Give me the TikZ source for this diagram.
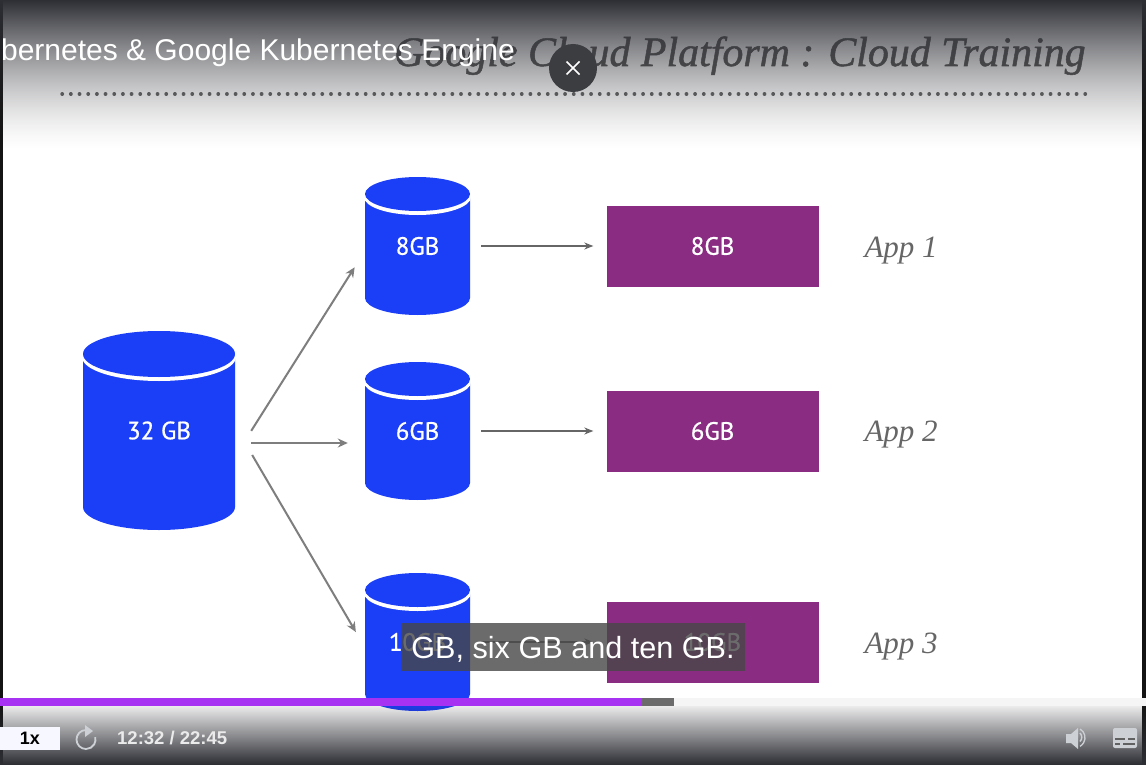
\documentclass[tikz,border=0pt]{standalone}
\usepackage{xcolor}
\usepackage{fontspec}
\usepackage{tikz}
\usetikzlibrary{arrows.meta}
\setmainfont{Liberation Sans}
\newfontfamily\slidefont[FakeBold=1.2]{Liberation Serif}
\newfontfamily\namefont{Liberation Serif}
\newfontfamily\diskfont[FakeBold=0.8]{PT Sans}

\definecolor{diskblue}{HTML}{1B3EF7}
\definecolor{apppurple}{HTML}{8A2C82}
\definecolor{flowgray}{HTML}{7E7E7E}
\definecolor{shadedark}{HTML}{2E2F35}
\definecolor{playerlight}{HTML}{CDD1D5}
\definecolor{closegray}{HTML}{3C3D41}
\definecolor{barviolet}{HTML}{A832F2}

\tikzset{
    diskbox/.style={inner sep=0pt, text=white, font=\diskfont\fontsize{25}{28}\selectfont},
    appbox/.style={fill=apppurple, inner sep=0pt, minimum width=212pt, minimum height=81pt, text=white, font=\diskfont\fontsize{25}{28}\selectfont},
    applabel/.style={anchor=west, text=black!60, font=\namefont\itshape\fontsize{31}{34}\selectfont},
    fanarrow/.style={draw=flowgray, line width=2pt, -{Stealth[length=10pt,width=9pt]}},
    apparrow/.style={draw=black!60, line width=1.2pt, -{Stealth[length=9pt,width=7pt]}, shorten <=11pt, shorten >=13pt},
    playertext/.style={text=white!92!black, font=\bfseries\fontsize{18.5}{20}\selectfont}
}

% name, centre x, top y, x radius, y radius, bottom y
\newcommand{\dbdisk}[6]{
    \fill[diskblue] (#2-#4,#3+#5+4) -- (#2-#4,#6-#5) arc[start angle=180, end angle=0, x radius=#4, y radius=#5] -- (#2+#4,#3+#5+4) -- cycle;
    \fill[white] (#2-#4-1,#3+#5) -- (#2-#4-1,#3+#5+3) arc[start angle=180, end angle=0, x radius=#4+1, y radius=#5+1] -- (#2+#4+1,#3+#5) -- cycle;
    \fill[diskblue] (#2,#3+#5) ellipse[x radius=#4, y radius=#5];
}

\begin{document}
\begin{tikzpicture}[x=1pt, y=-1pt]
    \useasboundingbox (0,0) rectangle (1146,765);
    \clip (0,0) rectangle (1146,765);
    \fill[white] (0,0) rectangle (1146,765);
    \fill[black!92] (0,0) rectangle (3,765);
    \fill[black!92] (1142,0) rectangle (1146,765);

    % slide heading
    \node[anchor=base west, inner sep=0pt, text=black!66, font=\slidefont\itshape\fontsize{41.9}{46}\selectfont] (heading) at (394,66) {Google Cloud Platform : Cloud Training};
    \draw[line width=3.4pt, black!60, line cap=round, dash pattern=on 0.4pt off 8.27pt] (62,94) -- (1086,94);

    % disks
    \dbdisk{d32}{159}{331}{76}{23}{530}
    \dbdisk{d8}{417.5}{177}{52.5}{17}{315}
    \dbdisk{d6}{417.5}{362}{52.5}{17}{500}
    \dbdisk{d10}{417.5}{573}{52.5}{17}{711}
    \node[diskbox, minimum width=152pt, minimum height=199pt] (disk32) at (159,430.5) {32 GB};
    \node[diskbox, minimum width=105pt, minimum height=138pt] (disk8) at (417.5,246) {8GB};
    \node[diskbox, minimum width=105pt, minimum height=138pt] (disk6) at (417.5,431) {6GB};
    \node[diskbox, minimum width=105pt, minimum height=138pt] (disk10) at (417.5,642) {10GB};

    % apps
    \node[appbox] (app8) at (712.5,246) {8GB};
    \node[appbox] (app6) at (712.5,431) {6GB};
    \node[appbox] (app10) at (712.5,642) {10GB};
    \node[applabel] (name1) at (861,251) {App 1};
    \node[applabel] (name2) at (861,435) {App 2};
    \node[applabel] (name3) at (861,647) {App 3};

    % connectors
    \draw[fanarrow, shorten <=30pt, shorten >=19pt] ([yshift=-25.7pt]disk32.east) -- ([yshift=-5.2pt]disk8.west);
    \draw[fanarrow, shorten <=16pt, shorten >=17pt] ([yshift=-12.5pt]disk32.east) -- ([yshift=-12pt]disk6.west);
    \draw[fanarrow, shorten <=33.6pt, shorten >=17.7pt] ([yshift=4.5pt]disk32.east) -- ([yshift=-5.3pt]disk10.west);
    \draw[apparrow] (disk8) -- (app8);
    \draw[apparrow] (disk6) -- (app6);
    \draw[apparrow] (disk10) -- (app10);

    % player shades
    \foreach \y in {0,...,149} {
        \pgfmathsetmacro{\shadeop}{(1-\y/150)^1.5}
        \fill[shadedark, opacity=\shadeop] (0,\y) rectangle (1146,\y+1);
    }
    \foreach \y in {706,...,764} {
        \pgfmathsetmacro{\shadeop}{(\y-700)/64}
        \fill[shadedark, opacity=\shadeop] (0,\y) rectangle (1146,\y+1);
    }

    % player overlay
    \node[anchor=base east, inner sep=0pt, text=white, font=\fontsize{30}{32}\selectfont] (course) at (515,61) {ubernetes \& Google Kubernetes Engine};
    \node[circle, fill=closegray, minimum size=48pt, inner sep=0pt] (closebtn) at (573,68) {};
    \draw[white, line width=1.6pt] ([shift={(-6.5pt,-6.5pt)}]closebtn.center) -- ([shift={(6.5pt,6.5pt)}]closebtn.center);
    \draw[white, line width=1.6pt] ([shift={(-6.5pt,6.5pt)}]closebtn.center) -- ([shift={(6.5pt,-6.5pt)}]closebtn.center);
    \node[anchor=base, fill=black!72, fill opacity=0.8, text opacity=1, text=white, inner ysep=0pt, inner xsep=0pt, minimum width=344pt, text height=35pt, text depth=13pt, font=\fontsize{30.6}{32}\selectfont] (caption) at (573,658) {GB, six GB and ten GB.};

    % progress bar
    \fill[white!96!black] (0,698) rectangle (1146,706);
    \fill[black!58] (641,698) rectangle (674,706);
    \fill[barviolet] (0,698) rectangle (641,706);

    % controls
    \node[fill=white!97!blue, minimum width=60pt, minimum height=23pt, inner sep=0pt, font=\bfseries\fontsize{18}{20}\selectfont] (speed) at (30,738.5) {1x};
    \draw[playerlight, line width=1.8pt] (86,730) arc[start angle=-90, end angle=-375, radius=9.5];
    \fill[playerlight] (85,725) -- (93,731) -- (85,737) -- cycle;
    \node[playertext, anchor=west, inner sep=0pt] (clock) at (117,738) {12:32 / 22:45};
    \fill[playerlight] (1066,734) -- (1071,734) -- (1078,728) -- (1078,749) -- (1071,743) -- (1066,743) -- cycle;
    \draw[playerlight, line width=1.5pt] (1080,733) arc[start angle=-45, end angle=45, radius=6];
    \draw[playerlight, line width=1.3pt] (1080,729) arc[start angle=-60, end angle=60, radius=10];
    \fill[playerlight, rounded corners=2pt] (1113,728) rectangle (1137,748);
    \draw[black!62, line width=1.6pt] (1115,739) -- (1125,739) (1128,739) -- (1135,739) (1115,744) -- (1120,744) (1123,744) -- (1135,744);
\end{tikzpicture}
\end{document}
